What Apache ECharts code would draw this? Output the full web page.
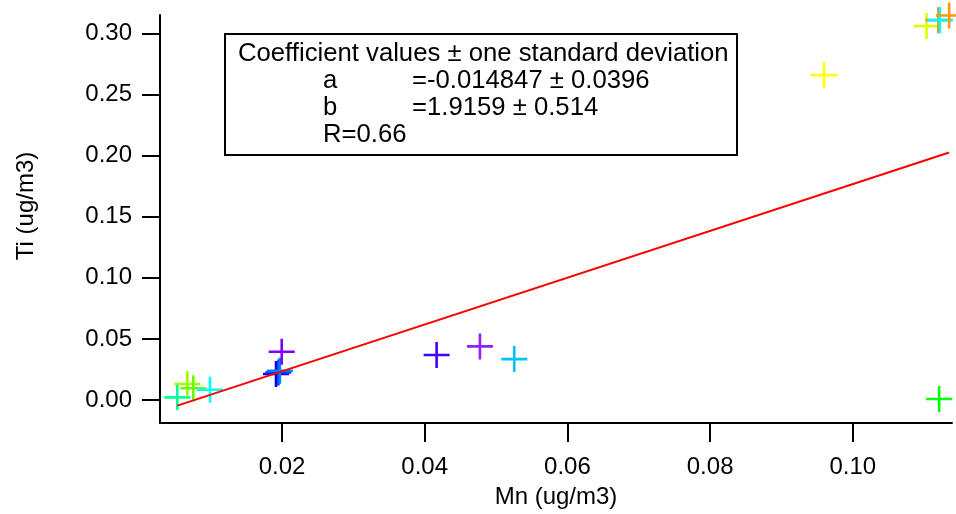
<!DOCTYPE html>
<html>
<head>
<meta charset="utf-8">
<script src="https://cdn.jsdelivr.net/npm/echarts@6/dist/echarts.min.js"></script>
<style>
html,body{margin:0;padding:0;background:#fff;}
#chart{width:956px;height:514px;}
</style>
</head>
<body>
<div id="chart"></div>
<script>
// ---- data ----
var mnValues = [0.00533, 0.00673, 0.00757, 0.00991, 0.01916, 0.01949, 0.01970, 0.01996, 0.04167, 0.04774, 0.05255, 0.09598, 0.11033, 0.11200, 0.11220, 0.11350, 0.11210];
var tiValues = [0.0022, 0.0131, 0.0096, 0.0084, 0.0213, 0.0226, 0.0240, 0.0395, 0.0368, 0.0439, 0.0335, 0.2659, 0.3060, 0.3109, 0.3109, 0.3147, 0.0008];
var pointColors = ['#00ff99', '#99ff00', '#66ff00', '#00ffff', '#0000ff', '#0040ff', '#0080ff', '#8000ff', '#4000ff', '#9020ff', '#00c0ff', '#ffff00', '#e0ff00', '#ff8000', '#00ffff', '#ff9900', '#00ff00'];
var fitX = [0.00533, 0.1135];
var fitY = [-0.0046, 0.2026];
var xTicks = [0.02, 0.04, 0.06, 0.08, 0.10];
var yTicks = [0.00, 0.05, 0.10, 0.15, 0.20, 0.25, 0.30];
var boxLines = [
  'Coefficient values \u00b1 one standard deviation',
  'a',
  'b',
  'R=0.66'
];
var boxValues = ['', '=-0.014847 \u00b1 0.0396', '=1.9159 \u00b1 0.514', ''];

// ---- build chart ----
var FONT = '"Liberation Sans", Arial, sans-serif';
var scatterData = mnValues.map(function (x, i) {
  return { value: [x, tiValues[i]], itemStyle: { color: pointColors[i], opacity: 1 } };
});
var fitData = fitX.map(function (x, i) { return [x, fitY[i]]; });

var graphics = [{
  type: 'rect',
  shape: { x: 225, y: 34, width: 512, height: 121 },
  style: { fill: '#fff', stroke: '#000', lineWidth: 2 },
  z: 10
}];
var rowY = [54, 81, 108, 135];
boxLines.forEach(function (t, i) {
  graphics.push({
    type: 'text', z: 11,
    x: i === 0 ? 238 : 323, y: rowY[i],
    style: { text: t, font: '25.7px ' + FONT, fill: '#000', textVerticalAlign: 'middle', textAlign: 'left' }
  });
  if (boxValues[i]) {
    graphics.push({
      type: 'text', z: 11,
      x: 412, y: rowY[i],
      style: { text: boxValues[i], font: '25.7px ' + FONT, fill: '#000', textVerticalAlign: 'middle', textAlign: 'left' }
    });
  }
});

var chart = echarts.init(document.getElementById('chart'), null, { renderer: 'canvas' });
chart.setOption({
  animation: false,
  backgroundColor: '#fff',
  grid: { left: 160, right: 4, top: 15, bottom: 90, containLabel: false },
  xAxis: {
    type: 'value',
    min: 0.0029, max: 0.1139,
    name: 'Mn (ug/m3)',
    nameLocation: 'middle',
    nameGap: 62,
    nameTextStyle: { fontFamily: FONT, fontSize: 24, color: '#000' },
    axisLine: { show: true, onZero: false, lineStyle: { color: '#000', width: 2 } },
    axisTick: { show: true, length: 19, lineStyle: { color: '#000', width: 2 }, customValues: xTicks },
    axisLabel: { fontFamily: FONT, fontSize: 24, color: '#000', margin: 32, customValues: xTicks,
      formatter: function (v) { return v.toFixed(2); } },
    splitLine: { show: false }
  },
  yAxis: {
    type: 'value',
    min: -0.0188, max: 0.3151,
    name: 'Ti (ug/m3)',
    nameLocation: 'middle',
    nameGap: 122,
    nameTextStyle: { fontFamily: FONT, fontSize: 24, color: '#000', padding: [0, 0, 0, 26] },
    axisLine: { show: true, onZero: false, lineStyle: { color: '#000', width: 2 } },
    axisTick: { show: true, length: 18, lineStyle: { color: '#000', width: 2 }, customValues: yTicks },
    axisLabel: { fontFamily: FONT, fontSize: 24, color: '#000', margin: 28, customValues: yTicks,
      formatter: function (v) { return v.toFixed(2); } },
    splitLine: { show: false }
  },
  series: [
    {
      type: 'line',
      data: fitData,
      symbol: 'none',
      lineStyle: { color: '#ff0000', width: 2 },
      z: 3
    },
    {
      type: 'scatter',
      data: scatterData,
      symbol: 'path://M45,0H55V100H45Z M0,45H100V55H0Z',
      symbolSize: 26,
      clip: false,
      itemStyle: { opacity: 1 },
      z: 2
    }
  ],
  graphic: graphics
});
</script>
</body>
</html>
